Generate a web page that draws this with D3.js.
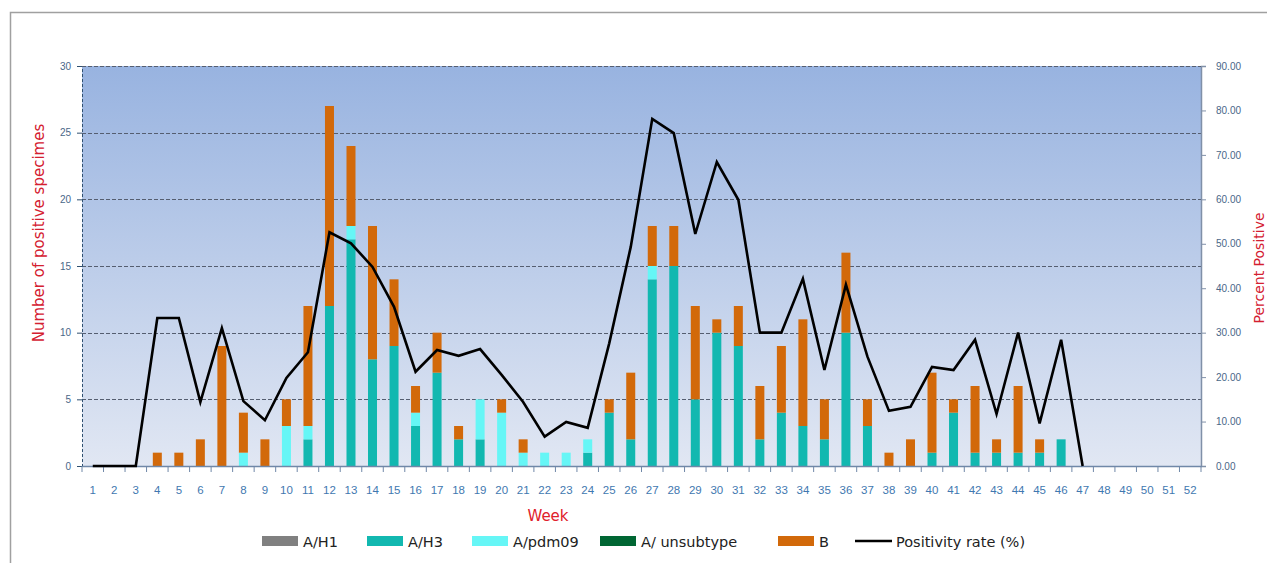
<!DOCTYPE html>
<html><head><meta charset="utf-8">
<script src="https://cdn.jsdelivr.net/npm/d3@7"></script>
<style>body{margin:0;background:#fff;} svg{display:block;font-family:"DejaVu Sans",Verdana,sans-serif;}</style>
</head><body>
<svg id="c" width="1267" height="563"></svg>
<script>
const weeks = d3.range(1, 53);
const h1 =    [0,0,0,0,0,0,0,0,0,0, 0,0,0,0,0,0,0,0,0,0, 0,0,0,0,0,0,0,0,0,0, 0,0,0,0,0,0,0,0,0,0, 0,0,0,0,0,0,0,0,0,0, 0,0];
const h3 =    [0,0,0,0,0,0,0,0,0,0, 2,12,17,8,9,3,7,2,2,0, 0,0,0,1,4,2,14,15,5,10, 9,2,4,3,2,10,3,0,0,1, 4,1,1,1,1,2,0,0,0,0, 0,0];
const pdm09 = [0,0,0,0,0,0,0,1,0,3, 1,0,1,0,0,1,0,0,3,4, 1,1,1,1,0,0,1,0,0,0, 0,0,0,0,0,0,0,0,0,0, 0,0,0,0,0,0,0,0,0,0, 0,0];
const unsub = [0,0,0,0,0,0,0,0,0,0, 0,0,0,0,0,0,0,0,0,0, 0,0,0,0,0,0,0,0,0,0, 0,0,0,0,0,0,0,0,0,0, 0,0,0,0,0,0,0,0,0,0, 0,0];
const bVals = [0,0,0,1,1,2,9,3,2,2, 9,15,6,10,5,2,3,1,0,1, 1,0,0,0,1,5,3,3,7,1, 3,4,5,8,3,6,2,1,2,6, 1,5,1,5,1,0,0,0,0,0, 0,0];
const positivity = [0,0,0,33.3,33.3,14.4,31.0,14.6,10.3,19.8, 25.6,52.6,50.1,44.8,35.8,21.2,26.1,24.8,26.3,20.5,
  14.4,6.6,9.9,8.6,27.6,49.3,78.1,74.9,52.2,68.4, 59.9,30.0,30.0,42.1,21.6,40.8,24.6,12.4,13.3,22.3,
  21.6,28.4,11.7,30.0,9.6,28.4,0,null,null,null, null,null];
const leftTicks = [0,5,10,15,20,25,30];
const rightTicks = [0,10,20,30,40,50,60,70,80,90];
const seriesNames = ["A/H1","A/H3","A/pdm09","A/ unsubtype","B"];
const seriesColors = ["#808080","#12b8b0","#66f6f6","#006633","#d2690a"];

const svg = d3.select("#c");
const L = 82, R = 1201, T = 66, B = 466;

// outer frame
svg.append("path").attr("d","M10.5,563 V12.5 H1267").attr("fill","none").attr("stroke","#a0a0a0").attr("stroke-width",1.5);

// background gradient
const defs = svg.append("defs");
const g = defs.append("linearGradient").attr("id","bg").attr("x1",0).attr("y1",0).attr("x2",0).attr("y2",1);
g.append("stop").attr("offset","0%").attr("stop-color","#98b3e0");
g.append("stop").attr("offset","100%").attr("stop-color","#e1e7f3");
svg.append("rect").attr("x",L).attr("y",T).attr("width",R-L).attr("height",B-T).attr("fill","url(#bg)");

const x = d3.scaleBand().domain(weeks).range([L,R]).padding(0);
const y = d3.scaleLinear().domain([0,30]).range([B,T]);
const y2 = d3.scaleLinear().domain([0,90]).range([B,T]);

// gridlines
svg.append("g").selectAll("line").data(leftTicks.filter(d=>d>0)).join("line")
  .attr("x1",L).attr("x2",R).attr("y1",d=>Math.round(y(d))+0.5).attr("y2",d=>Math.round(y(d))+0.5)
  .attr("stroke","#555e70").attr("stroke-dasharray","4,2").attr("stroke-width",1);

// stacked bars
const rows = weeks.map((w,i)=>({week:w, "A/H1":h1[i], "A/H3":h3[i], "A/pdm09":pdm09[i], "A/ unsubtype":unsub[i], "B":bVals[i]}));
const stack = d3.stack().keys(["A/H1","A/H3","A/pdm09","A/ unsubtype","B"])(rows);
const bw = 9;
svg.append("g").selectAll("g").data(stack).join("g")
  .attr("fill",(d,i)=>seriesColors[i])
  .selectAll("rect").data(d=>d).join("rect")
  .attr("x",d=>x(d.data.week)+x.bandwidth()/2-bw/2)
  .attr("width",bw)
  .attr("y",d=>y(d[1]))
  .attr("height",d=>Math.max(0,y(d[0])-y(d[1])));

// axes
const axL = d3.axisLeft(y).tickValues(leftTicks).tickSize(5).tickPadding(6);
const gL = svg.append("g").attr("transform",`translate(${L},0)`).call(axL);
gL.select(".domain").attr("stroke","#2f5070").attr("stroke-dasharray","3,2");
gL.selectAll(".tick line").attr("stroke","#2f5070");
gL.selectAll("text").attr("fill","#4a6788").attr("font-size","10px");

const axR = d3.axisRight(y2).tickValues(rightTicks).tickSize(5).tickPadding(10).tickFormat(d3.format(".2f"));
const gR = svg.append("g").attr("transform",`translate(${R},0)`).call(axR);
gR.select(".domain").attr("stroke","#8090a8").attr("stroke-width",1.5);
gR.selectAll(".tick line").attr("stroke","#8090a8");
gR.selectAll("text").attr("fill","#4a6788").attr("font-size","10px");

// top border dashed
svg.append("line").attr("x1",L).attr("x2",R).attr("y1",T+0.5).attr("y2",T+0.5).attr("stroke","#555e70").attr("stroke-dasharray","4,2");

const axB = d3.axisBottom(x).tickSize(0).tickPadding(20);
const gB = svg.append("g").attr("transform",`translate(0,${B})`).call(axB);
gB.select(".domain").attr("stroke","#7088a8").attr("stroke-width",1.5);
gB.selectAll("text").attr("fill","#3f78b0").attr("font-size","11.5px");
// boundary ticks
svg.append("g").selectAll("line").data(weeks.concat([53])).join("line")
  .attr("x1",d=>d<=52?x(d):R).attr("x2",d=>d<=52?x(d):R)
  .attr("y1",B).attr("y2",B+6).attr("stroke","#7088a8");

// positivity line
const line = d3.line().defined(d=>d.v!==null).x(d=>x(d.w)+x.bandwidth()/2).y(d=>y2(d.v));
svg.append("path").datum(weeks.map((w,i)=>({w, v:positivity[i]})))
  .attr("d",line).attr("fill","none").attr("stroke","#000").attr("stroke-width",2.6).attr("stroke-linejoin","miter");

// titles
svg.append("text").attr("x",548).attr("y",521).attr("text-anchor","middle").attr("fill","#e0202a").attr("font-size","15px").text("Week");
svg.append("text").attr("transform","translate(44,233) rotate(-90)").attr("text-anchor","middle").attr("fill","#d42030").attr("font-size","15px").text("Number of positive specimes");
svg.append("text").attr("transform","translate(1264,268) rotate(-90)").attr("text-anchor","middle").attr("fill","#d42030").attr("font-size","14px").text("Percent Positive");

// legend
const legX = [262, 367, 472, 600, 778];
const lg = svg.append("g");
seriesNames.forEach((n,i)=>{
  lg.append("rect").attr("x",legX[i]).attr("y",536).attr("width",36).attr("height",10).attr("fill",seriesColors[i]);
  lg.append("text").attr("x",legX[i]+41).attr("y",546.5).attr("font-size","14.5px").attr("fill","#222").text(n);
});
lg.append("line").attr("x1",855).attr("x2",892).attr("y1",541).attr("y2",541).attr("stroke","#000").attr("stroke-width",2.5);
lg.append("text").attr("x",896).attr("y",546.5).attr("font-size","14.5px").attr("fill","#222").text("Positivity rate (%)");
</script>
</body></html>
